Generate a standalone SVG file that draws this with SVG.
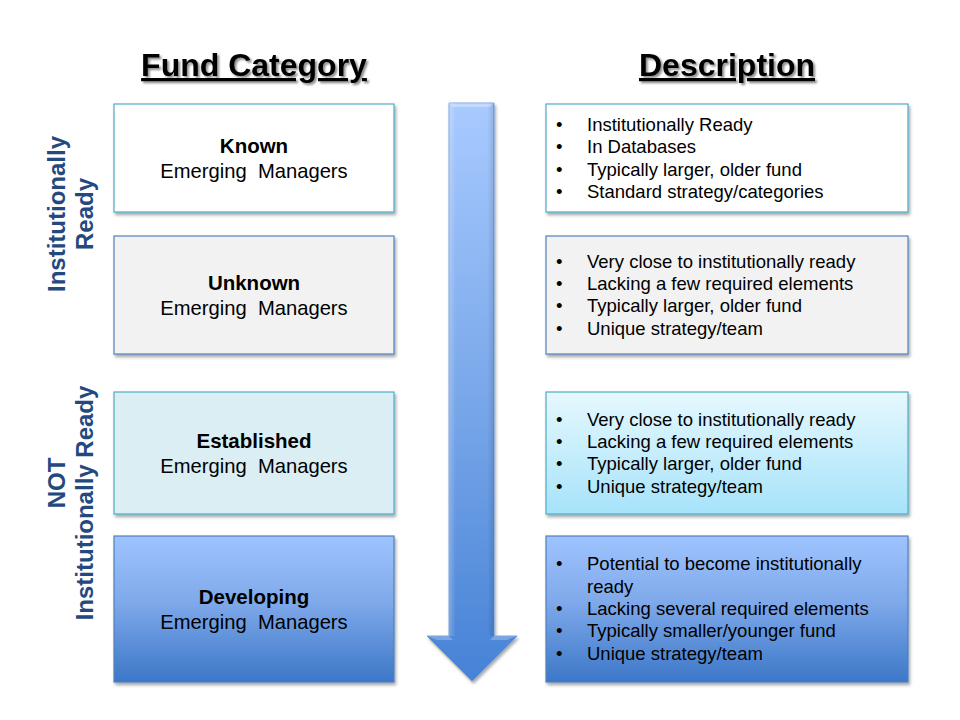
<svg xmlns="http://www.w3.org/2000/svg" width="960" height="720" viewBox="0 0 960 720">
<defs>
  <filter id="sh" x="-10%" y="-10%" width="120%" height="130%">
    <feDropShadow dx="1.5" dy="2.5" stdDeviation="1.5" flood-color="#000" flood-opacity="0.35"/>
  </filter>
  <filter id="tsh" x="-10%" y="-20%" width="120%" height="150%">
    <feDropShadow dx="2" dy="2" stdDeviation="1" flood-color="#000" flood-opacity="0.45"/>
  </filter>
  <linearGradient id="gBlue" x1="0" y1="0" x2="0" y2="1">
    <stop offset="0" stop-color="#9fc4ff"/>
    <stop offset="0.45" stop-color="#7fa9ea"/>
    <stop offset="1" stop-color="#3c77c8"/>
  </linearGradient>
  <linearGradient id="gCyan" x1="0" y1="0" x2="0" y2="1">
    <stop offset="0" stop-color="#e6f8fe"/>
    <stop offset="1" stop-color="#a6e3fa"/>
  </linearGradient>
  <linearGradient id="gArrow" x1="0" y1="0" x2="0" y2="1">
    <stop offset="0" stop-color="#a8caff"/>
    <stop offset="0.5" stop-color="#7aa8ea"/>
    <stop offset="1" stop-color="#4682d6"/>
  </linearGradient>
  <linearGradient id="gEdge" x1="0" y1="0" x2="1" y2="0">
    <stop offset="0" stop-color="#ffffff" stop-opacity="0.25"/>
    <stop offset="0.15" stop-color="#ffffff" stop-opacity="0"/>
    <stop offset="0.85" stop-color="#000000" stop-opacity="0"/>
    <stop offset="1" stop-color="#000000" stop-opacity="0.12"/>
  </linearGradient>
</defs>
<style>
  .title { font-family: "Liberation Sans", Arial, sans-serif; font-size: 32px; font-weight: bold; fill: #000; text-anchor: middle; text-decoration: underline; }
  .side { font-family: "Liberation Sans", Arial, sans-serif; font-size: 24px; font-weight: bold; fill: #24497f; text-anchor: middle; }
  .bx { filter: url(#sh); stroke-width: 1.2; }
  .nm { font-family: "Liberation Sans", Arial, sans-serif; font-size: 20.5px; font-weight: bold; fill: #000; text-anchor: middle; }
  .sub { font-family: "Liberation Sans", Arial, sans-serif; font-size: 20.2px; fill: #000; text-anchor: middle; white-space: pre; }
  .li { font-family: "Liberation Sans", Arial, sans-serif; font-size: 18.5px; fill: #000; }
</style>

<g id="titles" filter="url(#tsh)">
  <text class="title" x="254" y="76">Fund Category</text>
  <text class="title" x="727" y="76">Description</text>
</g>

<g id="side-labels">
  <g transform="translate(57,214) rotate(-90)">
    <text class="side" x="0" y="8">Institutionally</text>
    <text class="side" x="0" y="36">Ready</text>
  </g>
  <g transform="translate(57,503) rotate(-90)">
    <text class="side" x="20" y="8">NOT</text>
    <text class="side" x="0" y="36">Institutionally Ready</text>
  </g>
</g>

<g id="arrow">
  <path d="M449,103 H494 V636 H517 L472,681 L427,636 H449 Z" fill="url(#gArrow)" stroke="#5a8ed6" stroke-width="0.8" filter="url(#sh)"/>
  <path d="M449,103 H494 V636 H449 Z" fill="url(#gEdge)"/>
  <path d="M449,103 H494 L490,107 H453 Z" fill="#ffffff" fill-opacity="0.3"/>
  <path d="M427,636 H449 L453,640 H437 Z M494,636 H517 L507,640 H490 Z" fill="#ffffff" fill-opacity="0.25"/>
</g>

<g id="known">
  <rect class="bx" x="114" y="104" width="280" height="108" fill="#ffffff" stroke="#4bacc6"/>
  <text class="nm" x="254" y="153">Known</text>
  <text class="sub" x="254" y="178">Emerging  Managers</text>
</g>
<g id="unknown">
  <rect class="bx" x="114" y="236" width="280" height="118" fill="#f2f2f2" stroke="#4f81bd"/>
  <text class="nm" x="254" y="290">Unknown</text>
  <text class="sub" x="254" y="315">Emerging  Managers</text>
</g>
<g id="established">
  <rect class="bx" x="114" y="392" width="280" height="122" fill="#dbeef4" stroke="#4bacc6"/>
  <text class="nm" x="254" y="448">Established</text>
  <text class="sub" x="254" y="473">Emerging  Managers</text>
</g>
<g id="developing">
  <rect class="bx" x="114" y="536" width="280" height="146" fill="url(#gBlue)" stroke="#4f81bd"/>
  <text class="nm" x="254" y="604">Developing</text>
  <text class="sub" x="254" y="629">Emerging  Managers</text>
</g>

<g id="desc-known">
  <rect class="bx" x="546" y="104" width="362" height="108" fill="#ffffff" stroke="#4bacc6"/>
  <text class="li"><tspan x="556" y="131">•</tspan><tspan x="587" y="131">Institutionally Ready</tspan></text>
  <text class="li"><tspan x="556" y="153">•</tspan><tspan x="587" y="153">In Databases</tspan></text>
  <text class="li"><tspan x="556" y="176">•</tspan><tspan x="587" y="176">Typically larger, older fund</tspan></text>
  <text class="li"><tspan x="556" y="198">•</tspan><tspan x="587" y="198">Standard strategy/categories</tspan></text>
</g>
<g id="desc-unknown">
  <rect class="bx" x="546" y="236" width="362" height="118" fill="#f2f2f2" stroke="#4f81bd"/>
  <text class="li"><tspan x="556" y="268">•</tspan><tspan x="587" y="268">Very close to institutionally ready</tspan></text>
  <text class="li"><tspan x="556" y="290">•</tspan><tspan x="587" y="290">Lacking a few required elements</tspan></text>
  <text class="li"><tspan x="556" y="312">•</tspan><tspan x="587" y="312">Typically larger, older fund</tspan></text>
  <text class="li"><tspan x="556" y="335">•</tspan><tspan x="587" y="335">Unique strategy/team</tspan></text>
</g>
<g id="desc-established">
  <rect class="bx" x="546" y="392" width="362" height="122" fill="url(#gCyan)" stroke="#4bacc6"/>
  <text class="li"><tspan x="556" y="426">•</tspan><tspan x="587" y="426">Very close to institutionally ready</tspan></text>
  <text class="li"><tspan x="556" y="448">•</tspan><tspan x="587" y="448">Lacking a few required elements</tspan></text>
  <text class="li"><tspan x="556" y="470">•</tspan><tspan x="587" y="470">Typically larger, older fund</tspan></text>
  <text class="li"><tspan x="556" y="493">•</tspan><tspan x="587" y="493">Unique strategy/team</tspan></text>
</g>
<g id="desc-developing">
  <rect class="bx" x="546" y="536" width="362" height="146" fill="url(#gBlue)" stroke="#4f81bd"/>
  <text class="li"><tspan x="556" y="570">•</tspan><tspan x="587" y="570">Potential to become institutionally</tspan></text>
  <text class="li"><tspan x="587" y="593">ready</tspan></text>
  <text class="li"><tspan x="556" y="615">•</tspan><tspan x="587" y="615">Lacking several required elements</tspan></text>
  <text class="li"><tspan x="556" y="637">•</tspan><tspan x="587" y="637">Typically smaller/younger fund</tspan></text>
  <text class="li"><tspan x="556" y="660">•</tspan><tspan x="587" y="660">Unique strategy/team</tspan></text>
</g>
</svg>
